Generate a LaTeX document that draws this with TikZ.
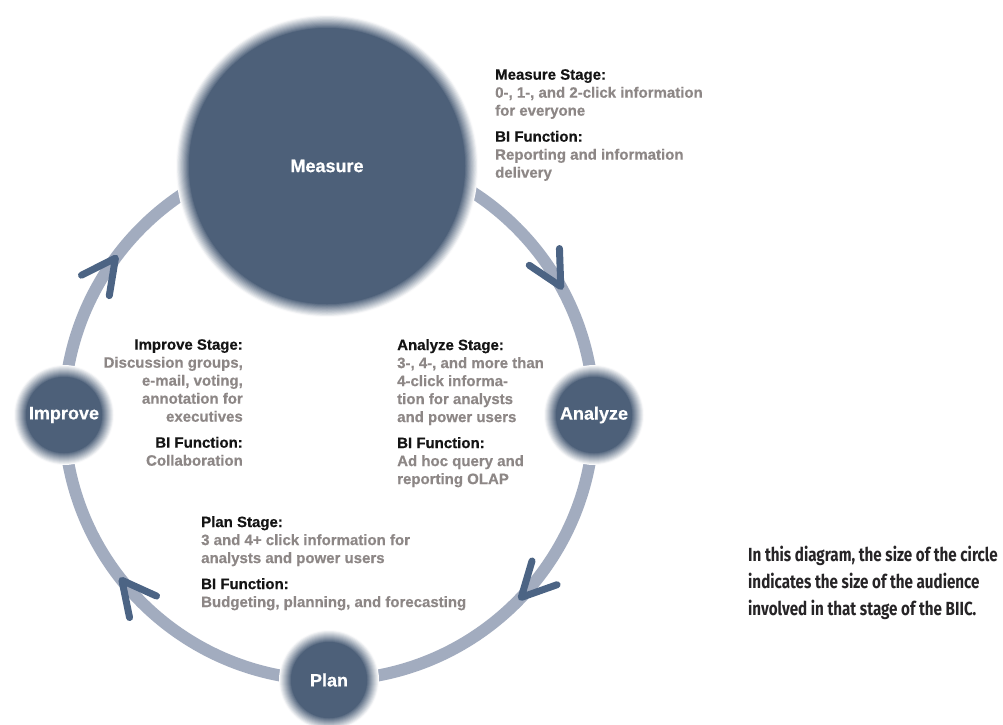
\documentclass[tikz,border=0pt]{standalone}
\usepackage{fontspec}
\setmainfont{Liberation Sans}
\newfontfamily\diafont[FakeBold=0.5]{Liberation Sans}
\newfontfamily\capfont[FakeStretch=0.8]{Fira Sans}
\usetikzlibrary{calc}
\definecolor{circ}{HTML}{4D6079}
\definecolor{ringc}{HTML}{A2ACBF}
\definecolor{arrc}{HTML}{4C6484}
\definecolor{bodyc}{HTML}{8D8786}
\definecolor{headc}{HTML}{141414}
\definecolor{capc}{HTML}{262426}
\newcommand\softdisc[3]{%
  \foreach \i in {0,...,12}{%
    \pgfmathsetmacro\rr{#3-(#3-#2)*\i/12}%
    \pgfmathtruncatemacro\pp{3+\i*8}%
    \fill[circ!\pp!white] (#1) circle (\rr pt);}%
  \fill[circ] (#1) circle (#2pt);}
\begin{document}
\begin{tikzpicture}[x=1pt,y=-1pt,
  stagetext/.style={inner sep=0pt, font=\diafont\fontsize{15}{18}\selectfont\bfseries, text=bodyc},
  circlabel/.style={inner sep=0pt, font=\diafont\fontsize{18}{20}\selectfont\bfseries, text=white},
  captext/.style={inner sep=0pt, align=left, font=\capfont\fontsize{19}{27}\selectfont\bfseries, text=capc},
  chevron/.style={draw=arrc, line width=7pt, line cap=round, line join=round},
  ringstyle/.style={draw=ringc, line width=12pt},
]
\useasboundingbox (0,0) rectangle (1003,724);
\fill[white] (0,0) rectangle (1003,724);
\coordinate (c) at (329,415);
\draw[ringstyle] (c) circle (265pt);
\foreach \a in {-29,43.5,141.4,216.3}{
  \coordinate (t) at ($(c)+(\a:265)$);
  \draw[chevron] ($(t)+(\a-63:38)$) -- (t) -- ($(t)+(\a-117:38)$);
}
\coordinate (mc) at (327,166);
\coordinate (ic) at (64,415);
\coordinate (ac) at (594,415);
\coordinate (pc) at (329,680);
\softdisc{mc}{138}{151}
\softdisc{ic}{38}{50}
\softdisc{ac}{38}{50}
\softdisc{pc}{38}{50}
\node[circlabel] (measure) at (mc) {Measure};
\node[circlabel] (improve) at (ic) {Improve};
\node[circlabel] (analyze) at (ac) {Analyze};
\node[circlabel] (plan) at (pc) {Plan};

\node[stagetext, align=left, anchor=north west] (mtext) at (495,69)
 {\textcolor{headc}{Measure Stage:}\\0-, 1-, and 2-click information\\for everyone\\[8pt]
  \textcolor{headc}{BI Function:}\\Reporting and information\\delivery};
\node[stagetext, align=right, anchor=north east] (itext) at (243,339)
 {\textcolor{headc}{Improve Stage:}\\Discussion groups,\\e-mail, voting,\\annotation for\\executives\\[8pt]
  \textcolor{headc}{BI Function:}\\Collaboration};
\node[stagetext, align=left, anchor=north west] (atext) at (397,339)
 {\textcolor{headc}{Analyze Stage:}\\3-, 4-, and more than\\4-click informa-\\tion for analysts\\and power users\\[8pt]
  \textcolor{headc}{BI Function:}\\Ad hoc query and\\reporting OLAP};
\node[stagetext, align=left, anchor=north west] (ptext) at (201,516)
 {\textcolor{headc}{Plan Stage:}\\3 and 4+ click information for\\analysts and power users\\[8pt]
  \textcolor{headc}{BI Function:}\\Budgeting, planning, and forecasting};
\node[captext, anchor=north west] (caption) at (748,546)
 {In this diagram, the size of the circle\\indicates the size of the audience\\involved in that stage of the BIIC.};
\end{tikzpicture}
\end{document}
